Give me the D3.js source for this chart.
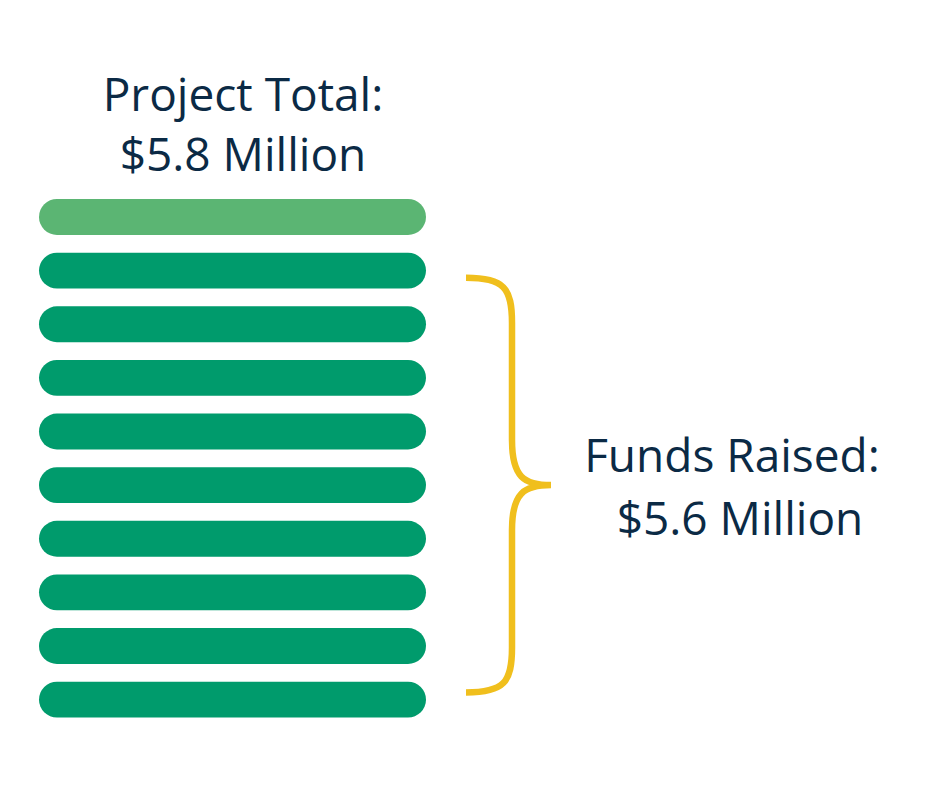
<!DOCTYPE html>
<html><head><meta charset="utf-8">
<script src="https://cdn.jsdelivr.net/npm/d3@7"></script>
<style>html,body{margin:0;padding:0;background:#fff;}svg{display:block;}</style>
</head><body>
<script>
// Data
const segments = ["s1","s2","s3","s4","s5","s6","s7","s8","s9","s10"];
const segmentStatus = ["remaining","raised","raised","raised","raised","raised","raised","raised","raised","raised"];
const totalLabel = ["Project Total:", "$5.8 Million"];
const raisedLabel = ["Funds Raised:", " $5.6 Million"];
const statusColors = {remaining:"#5bb573", raised:"#009b6c"};

const W = 940, H = 788;
const svg = d3.select("body").append("svg").attr("width", W).attr("height", H);

const x = d3.scaleLinear().domain([0,1]).range([39, 426]);
const y = d3.scaleBand().domain(segments).range([199, 717.6]).paddingInner(0.33).paddingOuter(0);

const bh = y.bandwidth();
svg.selectAll("rect.bar").data(segments).join("rect")
  .attr("class","bar")
  .attr("x", x(0)).attr("width", x(1)-x(0))
  .attr("y", d => y(d)).attr("height", bh)
  .attr("rx", bh/2).attr("ry", bh/2)
  .attr("fill", (d,i) => statusColors[segmentStatus[i]]);

// Title text
const textColor = "#0b2a45";
const font = "'Open Sans', 'Noto Sans', sans-serif";
const fs = 46;
svg.append("text").attr("x", 243).attr("y", 111).attr("text-anchor","middle")
  .attr("font-family", font).attr("font-size", fs).attr("fill", textColor).text(totalLabel[0]);
svg.append("text").attr("x", 243).attr("y", 171).attr("text-anchor","middle")
  .attr("font-family", font).attr("font-size", fs).attr("fill", textColor).text(totalLabel[1]);

// Brace spanning raised segments
const raisedSegs = segments.filter((d,i) => segmentStatus[i] === "raised");
const y0 = y(raisedSegs[0]) + bh*0.7;
const y1 = y(raisedSegs[raisedSegs.length-1]) + bh*0.3;
const ym = (y0+y1)/2;
const bx0 = 466, bxv = 512, bxt = 551, r = 45;
const p = d3.path();
p.moveTo(bx0, y0);
p.bezierCurveTo(bx0+38, y0, bxv, y0+10, bxv, y0+r);
p.lineTo(bxv, ym - r);
p.bezierCurveTo(bxv, ym - 8, bxv+12, ym, bxt, ym);
p.moveTo(bxt, ym);
p.bezierCurveTo(bxv+12, ym, bxv, ym + 8, bxv, ym + r);
p.lineTo(bxv, y1 - r);
p.bezierCurveTo(bxv, y1-10, bx0+38, y1, bx0, y1);
svg.append("path").attr("d", p.toString()).attr("fill","none")
  .attr("stroke","#f0bf1d").attr("stroke-width",6.5);

svg.append("text").attr("x", 732).attr("y", 472).attr("text-anchor","middle")
  .attr("font-family", font).attr("font-size", fs).attr("fill", textColor).text(raisedLabel[0]);
svg.append("text").attr("x", 740).attr("y", 535).attr("text-anchor","middle")
  .attr("font-family", font).attr("font-size", fs).attr("fill", textColor).text(raisedLabel[1].trim());
</script>
</body></html>
